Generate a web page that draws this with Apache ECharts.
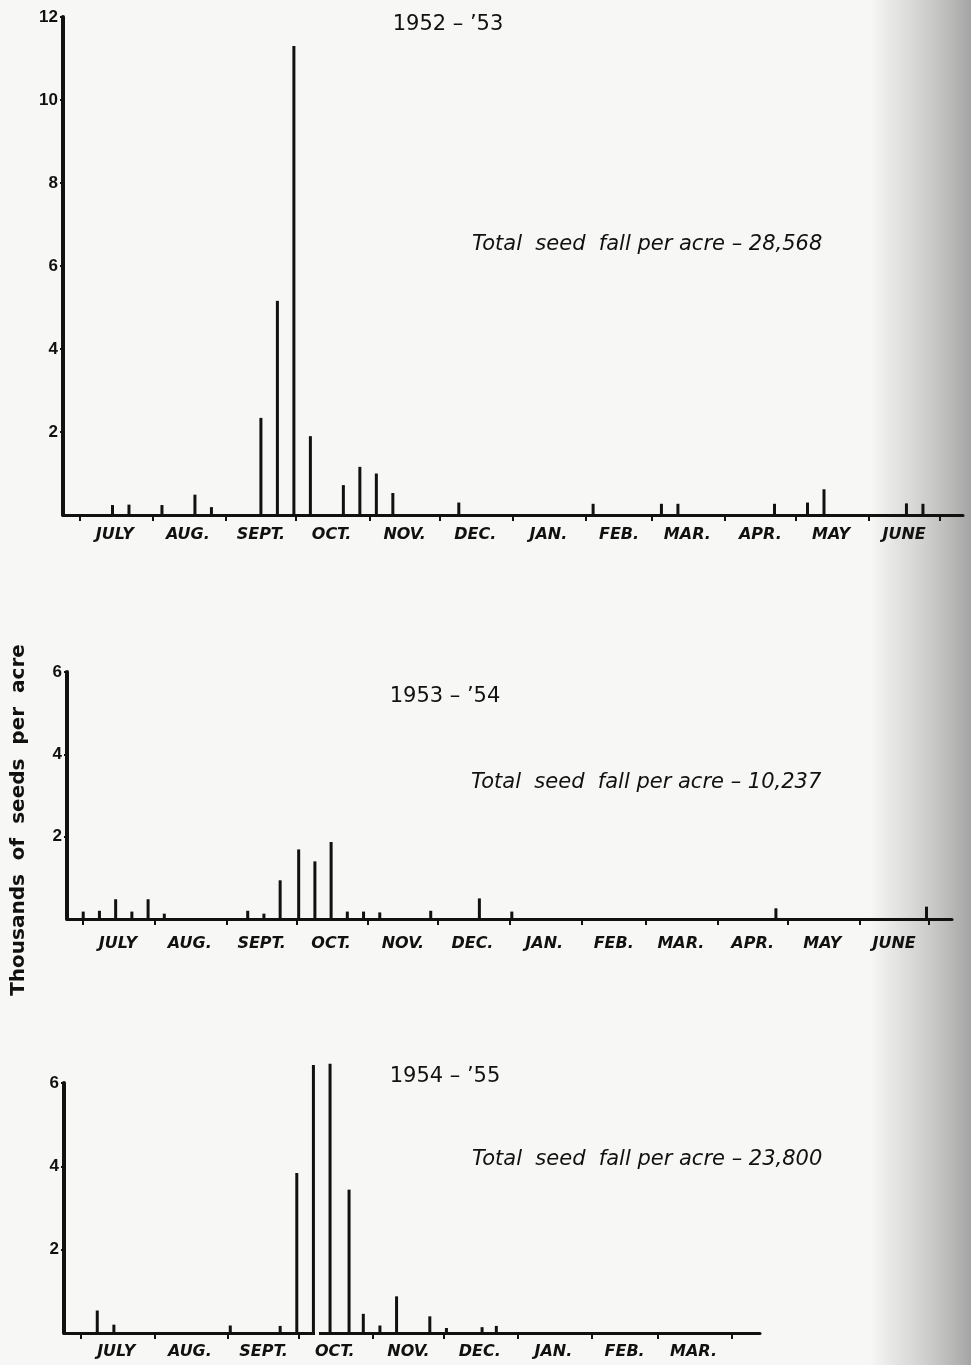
<!DOCTYPE html>
<html>
<head>
<meta charset="utf-8">
<script src="https://cdn.jsdelivr.net/npm/echarts@6/dist/echarts.min.js"></script>
<style>
html,body{margin:0;padding:0;background:#f7f7f5;}
#chart{width:971px;height:1365px;}
</style>
</head>
<body>
<div id="chart"></div>
<script>
// Days counted from July 1 of the first season year
var monthNames = ['JULY','AUG.','SEPT.','OCT.','NOV.','DEC.','JAN.','FEB.','MAR.','APR.','MAY','JUNE'];
var monthStarts = [0,31,62,92,123,153,184,215,243,274,304,335,365];
var monthMids = [15,46,77,107,138,168,199,229,258,289,319,350];

var titles = ['1952 – ’53','1953 – ’54','1954 – ’55'];
var totals = ['Total  seed  fall per acre – 28,568','Total  seed  fall per acre – 10,237','Total  seed  fall per acre – 23,800'];
var yTitle = 'Thousands  of  seeds  per  acre';

// 1952-'53 (thousands of seeds per acre)
var days1 = [14,21,35,49,56,77,84,91,98,112,119,126,133,161,218,247,254,295,309,316,351,358];
var vals1 = [0.24,0.25,0.24,0.49,0.19,2.34,5.16,11.3,1.9,0.72,1.16,1.0,0.53,0.3,0.27,0.27,0.27,0.27,0.3,0.62,0.28,0.27];

// 1953-'54
var days2 = [0,7,14,21,28,35,71,78,85,93,100,107,114,121,128,150,171,185,299,364];
var vals2 = [0.18,0.2,0.48,0.18,0.48,0.13,0.2,0.13,0.94,1.69,1.4,1.87,0.18,0.18,0.16,0.2,0.5,0.18,0.26,0.3];

// 1954-'55 (two bars run off the top of the scale)
var days3 = [7,14,63,84,91,98,105,113,119,126,133,147,154,169,175];
var vals3 = [0.54,0.2,0.18,0.17,3.84,6.43,6.46,3.44,0.46,0.18,0.88,0.4,0.12,0.14,0.17];
var axisBreakDay3 = 99.5;

var yMax = [12,6,6];
var xMax = [375,375,286];
var nMonths = [12,12,9];

function pairs(d,v){ return d.map(function(x,i){ return [x, v[i]]; }); }

var grids = [
  {left:63, top:17, width:900, height:498},
  {left:67, top:672, width:885, height:247},
  {left:64, top:1083, width:696, height:250}
];
var labelMargins = [12,17,11];
var BG = '#f7f7f5';

var xAxes = [], yAxes = [], series = [];
var datas = [pairs(days1,vals1), pairs(days2,vals2), pairs(days3,vals3)];
for (var g=0; g<3; g++){
  (function(g){
    var mids = monthMids.slice(0, nMonths[g]);
    var names = monthNames.slice(0, nMonths[g]);
    var starts = monthStarts.slice(0, nMonths[g]+1);
    xAxes.push({
      type:'value', gridIndex:g, min:-7, max:xMax[g],
      axisLine:{show:true, onZero:false, lineStyle:{color:'#111', width:3}},
      axisTick:{show:true, customValues:starts, length:6, lineStyle:{color:'#111', width:2}},
      axisLabel:{show:true, customValues:mids, margin:labelMargins[g], color:'#111',
        fontFamily:'DejaVu Sans', fontWeight:'bold', fontStyle:'italic', fontSize:16,
        formatter:function(v){ var i = mids.indexOf(Math.round(v)); return i>=0 ? names[i] : ''; }},
      splitLine:{show:false}
    });
    yAxes.push({
      type:'value', gridIndex:g, min:0, max:yMax[g], interval:2,
      axisLine:{show:true, onZero:false, lineStyle:{color:'#111', width:4}},
      axisTick:{show:true, length:3, lineStyle:{color:'#111', width:2}},
      axisLabel:{show:true, showMinLabel:false, margin:5, color:'#111',
        fontFamily:'Liberation Sans', fontWeight:'bold', fontSize:17},
      splitLine:{show:false}
    });
    series.push({
      type:'bar', xAxisIndex:g, yAxisIndex:g, data:datas[g], barWidth:3,
      clip:false, itemStyle:{color:'#111'}, silent:true, animation:false, z:3
    });
  })(g);
}

var graphics = [
  {type:'rect', z:-10, shape:{x:870, y:0, width:101, height:1365},
   style:{fill:{type:'linear', x:0, y:0, x2:1, y2:0, colorStops:[
     {offset:0, color:'rgba(170,170,170,0)'},
     {offset:0.45, color:'rgba(175,175,175,0.45)'},
     {offset:1, color:'rgba(150,150,150,0.85)'}]}}},
  {type:'text', x:448, y:25, style:{text:titles[0], fill:'#111', font:'500 21px "DejaVu Sans"', textAlign:'center', textVerticalAlign:'middle'}},
  {type:'text', x:445, y:697, style:{text:titles[1], fill:'#111', font:'500 21px "DejaVu Sans"', textAlign:'center', textVerticalAlign:'middle'}},
  {type:'text', x:445, y:1077, style:{text:titles[2], fill:'#111', font:'500 21px "DejaVu Sans"', textAlign:'center', textVerticalAlign:'middle'}},
  {type:'text', x:472, y:245, style:{text:totals[0], fill:'#111', font:'italic 21px "DejaVu Sans"', textAlign:'left', textVerticalAlign:'middle'}},
  {type:'text', x:471, y:783, style:{text:totals[1], fill:'#111', font:'italic 21px "DejaVu Sans"', textAlign:'left', textVerticalAlign:'middle'}},
  {type:'text', x:472, y:1160, style:{text:totals[2], fill:'#111', font:'italic 21px "DejaVu Sans"', textAlign:'left', textVerticalAlign:'middle'}},
  {type:'text', x:19, y:820, rotation:Math.PI/2, style:{text:yTitle, fill:'#111', font:'bold 20px "DejaVu Sans"', textAlign:'center', textVerticalAlign:'middle'}}
];

var chart = echarts.init(document.getElementById('chart'), null, {renderer:'canvas'});
chart.setOption({
  backgroundColor:BG,
  animation:false,
  grid:grids.map(function(g){ return Object.assign({outerBoundsMode:'none', containLabel:false}, g); }),
  xAxis:xAxes,
  yAxis:yAxes,
  series:series,
  graphic:graphics
});

// gap (break) in the 1954-'55 base line just after the tall off-scale bar
var p = chart.convertToPixel({xAxisIndex:2, yAxisIndex:2}, [axisBreakDay3, 0]);
graphics.push({type:'rect', z:100, shape:{x:p[0]-2, y:p[1]-3, width:4, height:6}, style:{fill:BG}});
chart.setOption({graphic:graphics});
</script>
</body>
</html>
